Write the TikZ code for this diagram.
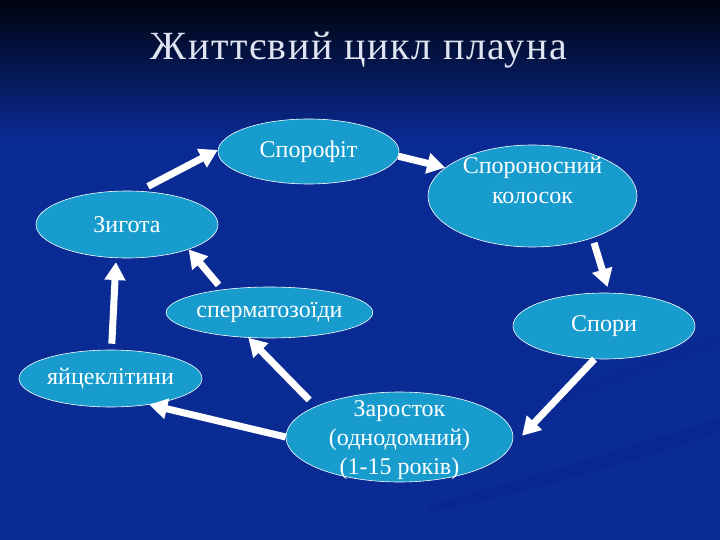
\documentclass[tikz,border=0pt]{standalone}
\usepackage{fontspec}
\setmainfont{Liberation Serif}
\newfontfamily\titlefont[LetterSpace=4]{Liberation Serif}
\usetikzlibrary{arrows.meta,shapes.geometric}

\definecolor{slidetop}{RGB}{0,4,16}
\definecolor{slidemid}{RGB}{6,26,84}
\definecolor{slideblue}{RGB}{10,42,148}
\definecolor{slideshade}{RGB}{6,30,110}
\definecolor{ovalfill}{RGB}{24,156,206}
\definecolor{titlegray}{RGB}{224,228,240}

% text lines of an oval, kept out of the oval's size
\newcommand{\ovaltext}[2]{\makebox[0pt]{\raisebox{#1}[0pt][0pt]{\begin{tabular}{@{}c@{}}#2\end{tabular}}}}

\begin{document}
\begin{tikzpicture}[x=1bp,y=-1bp]
\tikzset{
  stagenode/.style={ellipse,draw=white,line width=0.6pt,fill=ovalfill,text=white,inner sep=0pt,font=\fontsize{24bp}{30bp}\selectfont},
  titletext/.style={text=titlegray,inner sep=0pt,font=\titlefont\fontsize{40bp}{44bp}\selectfont},
  cyclearrow/.style={draw=white,line width=7bp,-{Triangle[length=18bp,width=20bp]}}
}
\useasboundingbox (0,0) rectangle (720,540);
\fill[slideblue] (0,0) rectangle (720,540);
\shade[top color=slidetop,middle color=slidemid,bottom color=slideblue] (0,0) rectangle (720,140);
% faint streaks of the slide template
\fill[slideshade,opacity=0.12] (430,505) .. controls (560,470) and (650,440) .. (720,418) -- (720,432) .. controls (650,455) and (560,485) .. (430,512) -- cycle;
\fill[slideshade,opacity=0.1] (560,395) .. controls (620,370) and (680,345) .. (720,335) -- (720,345) .. controls (680,357) and (620,382) .. (560,402) -- cycle;
\node[titletext,anchor=base] (title) at (359,60) {Життєвий цикл плауна};
\node[stagenode,minimum width=181bp,minimum height=65bp] (n_spor) at (308.5,151.5) {Спорофіт};
\node[stagenode,minimum width=209bp,minimum height=102bp] (n_kol) at (532.5,196) {\ovaltext{7bp}{Спороносний\\колосок}};
\node[stagenode,minimum width=182bp,minimum height=66bp] (n_spory) at (604,326) {Спори};
\node[stagenode,minimum width=182bp,minimum height=67bp] (n_zyg) at (127,224.5) {Зигота};
\node[stagenode,minimum width=183bp,minimum height=51bp] (n_sperm) at (269.5,312.5) {сперматозоїди};
\node[stagenode,minimum width=183bp,minimum height=57bp] (n_egg) at (110.5,378.5) {яйцеклітини};
\node[stagenode,minimum width=227bp,minimum height=90bp,font=\fontsize{24bp}{29bp}\selectfont] (n_zar) at (399.5,437) {\ovaltext{-9bp}{Заросток\\(однодомний)\\(1-15 років)}};
\draw[cyclearrow,shorten <=10bp] (n_zyg.70) -- (n_spor.179);
\draw[cyclearrow] (n_spor.-3) -- (n_kol.162);
\draw[cyclearrow,shorten <=5bp,shorten >=6bp] (n_kol.-35) -- (n_spory.81);
\draw[cyclearrow,shorten >=27bp] (n_spory.-106) -- (n_zar.-10);
\draw[cyclearrow] (n_zar.180) -- (n_egg.-34);
\draw[cyclearrow,shorten <=9bp] (n_zar.160) -- (n_sperm.-130);
\draw[cyclearrow,shorten <=6bp,shorten >=4bp] (n_egg.88) -- (n_zyg.-108);
\draw[cyclearrow,shorten <=6bp] (n_sperm.154) -- (n_zyg.-22);
\end{tikzpicture}
\end{document}
